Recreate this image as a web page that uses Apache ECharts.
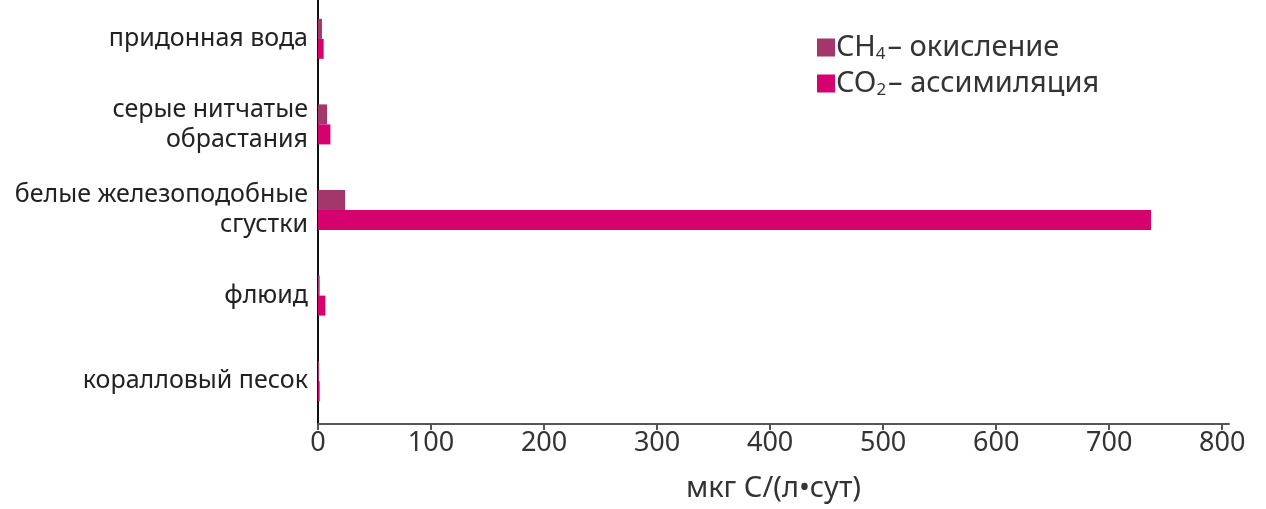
<!DOCTYPE html>
<html>
<head>
<meta charset="utf-8">
<script src="https://cdn.jsdelivr.net/npm/echarts@6/dist/echarts.min.js"></script>
<style>
  html, body { margin: 0; padding: 0; background: #fff; }
  #chart { width: 1266px; height: 509px; }
</style>
</head>
<body>
<div id="chart"></div>
<script>
const categories = ['придонная вода', 'серые нитчатые\nобрастания', 'белые железоподобные\nсгустки', 'флюид', 'коралловый песок']
const ch4Values = [3.5, 8, 24, 1.5, 1]
const co2Values = [5, 11, 737, 6.5, 1.5]
const xTicks = [0, 100, 200, 300, 400, 500, 600, 700, 800]

const chart = echarts.init(document.getElementById('chart'))

const font = '"Noto Sans", "Open Sans", sans-serif'

const option = {
  animation: false,
  textStyle: { fontFamily: font },
  legend: {
    orient: 'vertical',
    left: 812,
    top: 28,
    icon: 'rect',
    itemWidth: 18,
    itemHeight: 18,
    itemGap: 6,
    data: ['CH4', 'CO2'],
    formatter: name => name === 'CH4'
      ? '{a|CH}{s|4}{a|– окисление}'
      : '{a|CO}{s|2}{a|– ассимиляция}',
    textStyle: {
      padding: [0, 0, 0, -4],
      rich: {
        a: { fontSize: 29, color: '#333', fontFamily: font },
        s: { fontSize: 17, color: '#333', fontFamily: font, verticalAlign: 'bottom', padding: [14, 2, 0, 0] }
      }
    }
  },
  grid: {
    left: 318,
    right: 37,
    top: -4,
    bottom: 85,
    outerBoundsMode: 'none',
    containLabel: false
  },
  xAxis: {
    type: 'value',
    min: 0,
    max: 806,
    name: 'мкг С/(л•сут)',
    nameLocation: 'middle',
    nameGap: 50,
    nameTextStyle: { fontSize: 29, color: '#333', fontFamily: font },
    axisLine: { show: true, lineStyle: { color: '#555', width: 2 } },
    axisTick: { show: true, length: 6, inside: false, customValues: xTicks, lineStyle: { color: '#555', width: 2 } },
    axisLabel: { customValues: xTicks, fontSize: 27, color: '#333', margin: 6, fontFamily: font },
    splitLine: { show: false }
  },
  yAxis: {
    type: 'category',
    inverse: true,
    data: categories,
    axisLine: { show: true, lineStyle: { color: '#111', width: 2 } },
    axisTick: { show: false },
    axisLabel: {
      fontSize: 25,
      color: '#222',
      lineHeight: 30,
      margin: 10,
      align: 'right',
      fontFamily: font
    }
  },
  series: [
    {
      name: 'CH4',
      type: 'bar',
      data: ch4Values,
      barWidth: 20,
      barGap: '0%',
      itemStyle: { color: '#a3366b' }
    },
    {
      name: 'CO2',
      type: 'bar',
      data: co2Values,
      barWidth: 20,
      barGap: '0%',
      itemStyle: { color: '#d6006f' }
    }
  ]
}

chart.setOption(option)
</script>
</body>
</html>
